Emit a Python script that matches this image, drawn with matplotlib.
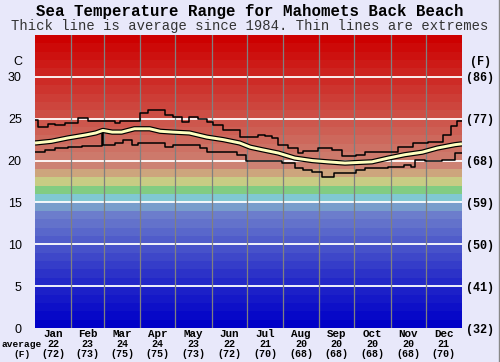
import numpy as np
import matplotlib
matplotlib.use("Agg")
import matplotlib.pyplot as plt
from matplotlib.lines import Line2D

MONTHS = ["Jan", "Feb", "Mar", "Apr", "May", "Jun",
          "Jul", "Aug", "Sep", "Oct", "Nov", "Dec"]
MONTH_AVG_C = [22, 23, 24, 24, 23, 22, 21, 20, 20, 20, 20, 21]
MONTH_AVG_F = [72, 73, 75, 75, 73, 72, 70, 68, 68, 68, 68, 70]
MONTH_START = [0, 31, 59, 90, 120, 151, 181, 212, 243, 273, 304, 334, 365]

# daily average (day of year, deg C)
avg_day = [0, 14, 28, 43, 52, 58, 66, 74, 85, 98, 107, 118, 132, 147, 161,
           175, 184, 194, 208, 222, 237, 250, 265, 288, 302, 316, 331, 344,
           359, 365]
avg_temp = [22.1, 22.3, 22.7, 23.05, 23.3, 23.6, 23.4, 23.4, 23.8, 23.8,
            23.5, 23.4, 23.3, 22.8, 22.5, 22.1, 21.6, 21.3, 20.9, 20.3,
            20.0, 19.85, 19.7, 19.85, 20.3, 20.7, 21.0, 21.5, 21.9, 22.0]

# extremes (step lines, value holds until next day)
max_day = [0, 2.6, 11, 17, 26, 37, 45, 68, 73, 90, 97, 111, 118, 126, 132,
           139, 147, 152, 161, 175, 191, 197, 203, 208, 216, 225, 229, 242,
           254, 262, 274, 282, 310, 323, 336, 349, 356, 361, 365]
max_temp = [24.85, 24.0, 24.4, 24.25, 24.5, 25.1, 24.7, 24.5, 24.7, 25.7,
            26.0, 25.4, 25.2, 24.6, 25.2, 25.0, 24.6, 24.25, 23.65, 22.8,
            23.05, 22.9, 22.7, 21.9, 21.5, 20.9, 21.15, 21.5, 21.3, 20.55,
            20.7, 21.0, 21.6, 22.1, 22.2, 23.05, 24.1, 24.7, 24.7]

min_day = [0, 8.5, 17, 28, 40, 57, 58, 68, 75, 83, 88, 111, 118, 141, 147,
           173, 180, 182, 211, 222, 229, 237, 245, 256, 274, 282, 302, 315,
           321, 325, 333, 348, 359, 365]
min_temp = [21.0, 21.3, 21.5, 21.6, 21.7, 23.6, 21.9, 22.1, 22.5, 21.9,
            22.1, 21.6, 21.9, 21.5, 21.0, 20.7, 20.0, 19.9, 19.7, 19.1,
            18.9, 18.6, 18.0, 18.5, 18.9, 19.1, 19.25, 19.5, 19.25, 20.1,
            19.9, 20.1, 20.9, 20.9]

Y_TICKS_C = [0, 5, 10, 15, 20, 25, 30]
Y_TICKS_F = [32, 41, 50, 59, 68, 77, 86]

# background band colours, one per degree
BLUE_ANCHORS = [(0, (0, 0, 200)), (5, (35, 40, 200)), (10, (80, 92, 202)),
                (13, (108, 125, 204)), (14, (120, 158, 204))]
MID_BANDS = {15: (128, 200, 210), 16: (130, 204, 130), 17: (200, 204, 132),
             18: (205, 165, 125)}
RED_ANCHORS = [(19, (205, 130, 115)), (34, (205, 0, 0))]


def band_color(i):
    if i in MID_BANDS:
        c = MID_BANDS[i]
    else:
        anchors = BLUE_ANCHORS if i < 15 else RED_ANCHORS
        xs = [a[0] for a in anchors]
        c = [np.interp(i, xs, [a[1][k] for a in anchors]) for k in range(3)]
    return tuple(v / 255 for v in c)


MONO = "Liberation Mono"
BG = "#e8e8fa"

fig = plt.figure(figsize=(5, 3.62), dpi=100, facecolor=BG)
ax = fig.add_axes([0.07, 0.0939, 0.854, 0.8094])

for i in range(35):
    ax.axhspan(i, i + 1, color=band_color(i), lw=0, zorder=0)
for c in Y_TICKS_C[1:]:
    ax.axhline(c, color="white", lw=1.3, zorder=1)
for d in MONTH_START[1:-1]:
    ax.axvline(d, color="#808080", lw=0.9, zorder=1)

ax.step(max_day, max_temp, where="post", color="black", lw=1.1, zorder=3)
ax.step(min_day, min_temp, where="post", color="black", lw=1.1, zorder=3)
ax.plot(avg_day, avg_temp, color="black", lw=3.8, zorder=4,
        solid_capstyle="butt")
ax.plot(avg_day, avg_temp, color="#ffffc0", lw=2.1, zorder=5,
        solid_capstyle="butt")

ax.set_xlim(0, 365)
ax.set_ylim(0, 35)
for s in ax.spines.values():
    s.set_visible(False)
ax.set_xticks([])
ax.set_yticks(Y_TICKS_C)
ax.set_yticklabels([str(c) for c in Y_TICKS_C], fontsize=9,
                   family="Liberation Sans")
ax.tick_params(axis="y", length=0, pad=9.5)

ax2 = ax.twinx()
ax2.set_ylim(0, 35)
ax2.set_yticks(Y_TICKS_C)
ax2.set_yticklabels([f"({f})" for f in Y_TICKS_F], fontsize=8.5,
                    family=MONO, fontweight="bold")
ax2.tick_params(axis="y", length=0, pad=3)
for s in ax2.spines.values():
    s.set_visible(False)

trans = ax.get_xaxis_transform()
for i, m in enumerate(MONTHS):
    xc = (MONTH_START[i] + MONTH_START[i + 1]) / 2
    ax.text(xc, -0.021, m, transform=trans, ha="center", va="center",
            family=MONO, fontweight="bold", fontsize=7.8)
    ax.text(xc, -0.055, str(MONTH_AVG_C[i]), transform=trans, ha="center",
            va="center", family=MONO, fontweight="bold", fontsize=7.2)
    ax.text(xc, -0.089, f"({MONTH_AVG_F[i]})", transform=trans, ha="center",
            va="center", family=MONO, fontweight="bold", fontsize=7.2)

fig.text(0.044, 0.0497, "average", ha="center", va="center", family=MONO,
         fontweight="bold", fontsize=6.8)
fig.text(0.044, 0.022, "(F)", ha="center", va="center", family=MONO,
         fontweight="bold", fontsize=6.8)
fig.text(0.036, 0.829, "C", ha="center", va="center",
         family="Liberation Sans", fontsize=9)
fig.text(0.962, 0.829, "(F)", ha="center", va="center", family=MONO,
         fontweight="bold", fontsize=8.5)

fig.text(0.5, 0.967, "Sea Temperature Range for Mahomets Back Beach",
         ha="center", va="center", family=MONO, fontweight="bold",
         fontsize=11.3)
fig.text(0.5, 0.928,
         "Thick line is average since 1984. Thin lines are extremes",
         ha="center", va="center", family=MONO, fontsize=10,
         color="#333333")

fig.add_artist(Line2D([0.997, 0.997], [0, 1], transform=fig.transFigure,
                      color="#888888", lw=1))

fig.savefig("out.png", dpi=100, facecolor=BG)
